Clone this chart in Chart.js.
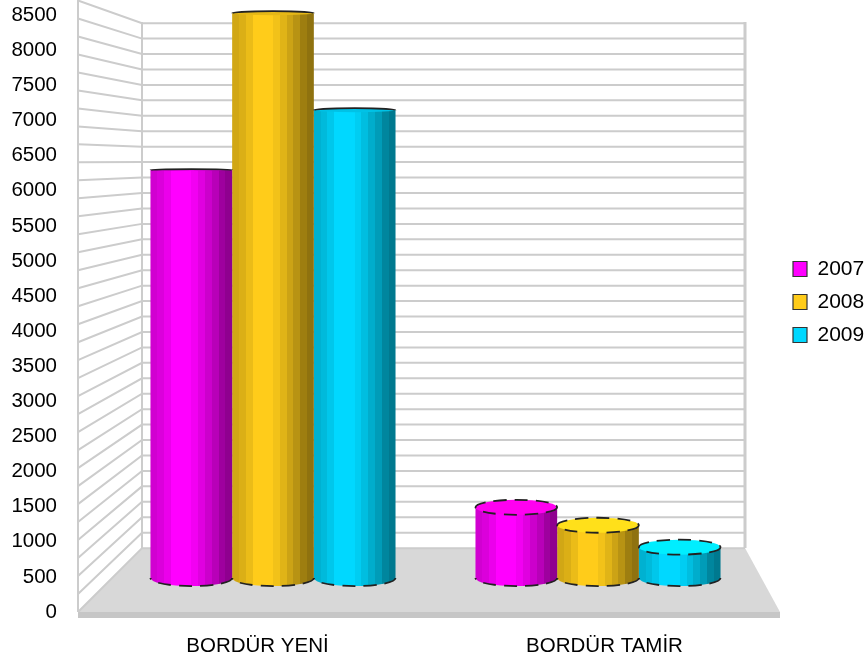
<!DOCTYPE html>
<html>
<head>
<meta charset="utf-8">
<title>Bordür</title>
<script src="https://cdn.jsdelivr.net/npm/chart.js@4"></script>
<style>
  html, body { margin: 0; padding: 0; background: #fff; }
  canvas { display: block; }
</style>
</head>
<body>
<canvas id="chart" width="868" height="665"></canvas>
<script>
const categories = ["BORDÜR YENİ", "BORDÜR TAMİR"];
const seriesNames = ["2007", "2008", "2009"];
const values2007 = [6140, 1065];
const values2008 = [8500, 795];
const values2009 = [7040, 465];
const yMax = 8500, yStep = 500, gridStep = 250;

const COLORS = ["#ff00ff", "#ffcc1a", "#00d8ff"];
const CAPS = ["#ff00f0", "#ffe01a", "#00eeff"];
const SHADES = [0.82, 0.86, 0.92, 1, 1, 1, 0.95, 0.88, 0.8, 0.72, 0.62, 0.56];
const FONT = "'Liberation Sans', Arial, sans-serif";

// wall / floor layout of the fake 3D box
const box = { frontX: 78, backX: 142, rightX: 745, floorRightX: 780, backTop: 22, backBottom: 548, front: 612, strip: 6 };

function shade(hex, k) {
  const n = parseInt(hex.slice(1), 16);
  return `rgb(${Math.round((n >> 16) * k)},${Math.round(((n >> 8) & 255) * k)},${Math.round((n & 255) * k)})`;
}

function barGradient(ctx, left, right, color) {
  const g = ctx.createLinearGradient(left, 0, right, 0);
  SHADES.forEach((k, i) => {
    g.addColorStop(i / SHADES.length, shade(color, k));
    g.addColorStop((i + 1) / SHADES.length, shade(color, k));
  });
  return g;
}

const walls = {
  id: "walls",
  beforeDatasetsDraw(chart) {
    const { ctx, scales } = chart;
    ctx.save();
    // floor
    ctx.fillStyle = "#d8d8d8";
    ctx.beginPath();
    ctx.moveTo(box.frontX, box.front);
    ctx.lineTo(box.backX, box.backBottom);
    ctx.lineTo(box.rightX, box.backBottom);
    ctx.lineTo(box.floorRightX, box.front);
    ctx.closePath();
    ctx.fill();
    ctx.fillStyle = "#c6c6c6";
    ctx.fillRect(box.frontX, box.front, box.floorRightX - box.frontX, box.strip);
    // grid lines, side wall and back wall
    ctx.strokeStyle = "#cccccc";
    ctx.lineWidth = 2;
    for (let v = 0; v <= yMax; v += gridStep) {
      const yF = scales.yFront.getPixelForValue(v), yB = scales.yBack.getPixelForValue(v);
      ctx.beginPath();
      ctx.moveTo(box.frontX, yF);
      ctx.lineTo(box.backX, yB);
      ctx.lineTo(box.rightX, yB);
      ctx.stroke();
    }
    ctx.beginPath();
    ctx.moveTo(box.frontX, 0);
    ctx.lineTo(box.frontX, box.front);
    ctx.moveTo(box.backX, box.backTop);
    ctx.lineTo(box.backX, box.backBottom);
    ctx.stroke();
    ctx.lineWidth = 3;
    ctx.beginPath();
    ctx.moveTo(box.rightX, box.backTop);
    ctx.lineTo(box.rightX, box.backBottom);
    ctx.stroke();
    // cylinder bottoms + gradient on the bars
    chart.data.datasets.forEach((ds, i) => {
      chart.getDatasetMeta(i).data.forEach(bar => {
        const left = bar.x - bar.width / 2, right = bar.x + bar.width / 2;
        const g = barGradient(ctx, left, right, COLORS[i]);
        bar.options = Object.assign({}, bar.options, { backgroundColor: g });
        ctx.fillStyle = g;
        ctx.beginPath();
        ctx.ellipse(bar.x, bar.base, bar.width / 2, 8, 0, 0, Math.PI);
        ctx.fill();
        ctx.strokeStyle = "#222";
        ctx.lineWidth = 1.8;
        ctx.setLineDash([13, 8]);
        ctx.beginPath();
        ctx.ellipse(bar.x, bar.base, bar.width / 2, 8, 0, 0, Math.PI);
        ctx.stroke();
        ctx.setLineDash([]);
      });
    });
    ctx.restore();
  },
  afterDatasetsDraw(chart) {
    const { ctx } = chart;
    ctx.save();
    chart.data.datasets.forEach((ds, i) => {
      chart.getDatasetMeta(i).data.forEach(bar => {
        const ry = bar.y < 150 ? 2 : bar.y < 400 ? 0.8 : 7.5;
        ctx.fillStyle = ry > 3 ? CAPS[i] : shade(COLORS[i], 0.9);
        ctx.beginPath();
        ctx.ellipse(bar.x, bar.y, bar.width / 2, ry, 0, 0, Math.PI * 2);
        ctx.fill();
        ctx.strokeStyle = "#222";
        ctx.lineWidth = 1.8;
        if (ry > 3) ctx.setLineDash([13, 8]);
        ctx.beginPath();
        ctx.ellipse(bar.x, bar.y, bar.width / 2, ry, 0, ry > 3 ? 0 : Math.PI, Math.PI * 2);
        ctx.stroke();
        ctx.setLineDash([]);
      });
    });
    ctx.restore();
  },
  afterLayout(chart) {
    // legend sits above the centre of the canvas
    const lg = chart.legend;
    lg.left = 781;
    lg.top -= 37.5;
    lg.bottom -= 37.5;
  }
};

function series(values, i) {
  return {
    label: seriesNames[i],
    data: values.map((y, x) => ({ x, y })),
    backgroundColor: COLORS[i],
    xAxisID: "xBar",
    yAxisID: "yBar",
    categoryPercentage: 0.754,
    barPercentage: 1,
    clip: false
  };
}

new Chart(document.getElementById("chart"), {
  type: "bar",
  data: {
    labels: categories,
    datasets: [series(values2007, 0), series(values2008, 1), series(values2009, 2)]
  },
  options: {
    responsive: false,
    animation: false,
    layout: { padding: { top: 14 } },
    plugins: {
      tooltip: { enabled: false },
      legend: {
        position: "right",
        maxWidth: 90,
        labels: {
          color: "#000",
          boxWidth: 14,
          boxHeight: 15,
          padding: 12,
          font: { family: FONT, size: 21 },
          generateLabels: () => seriesNames.map((text, i) => ({
            text, fillStyle: COLORS[i], strokeStyle: "#333", lineWidth: 1.2, datasetIndex: i, fontColor: "#000"
          }))
        }
      }
    },
    scales: {
      x: {
        type: "category",
        grid: { display: false },
        border: { display: false },
        ticks: { color: "#000", padding: 14, maxRotation: 0, font: { family: FONT, size: 20.5 } },
        afterFit: s => { s.height = 53; }
      },
      y: {
        min: 0,
        max: yMax,
        grid: { display: false, tickLength: 24 },
        border: { display: false },
        ticks: { stepSize: yStep, color: "#000", padding: 3, font: { family: FONT, size: 20.5 }, callback: v => String(v) },
        afterFit: s => { s.width = 84; }
      },
      // hidden axes: same chart area, different planes of the 3D box
      xBar: { type: "linear", display: false, offset: false, min: -0.5815, max: 1.5538, ticks: { stepSize: 1, includeBounds: false } },
      yBar: { display: false, min: -510.5, max: 8468 },
      yFront: { display: false, min: 0, max: 8294 },
      yBack: { display: false, min: -1034, max: 8627 }
    }
  },
  plugins: [walls]
});
</script>
</body>
</html>
